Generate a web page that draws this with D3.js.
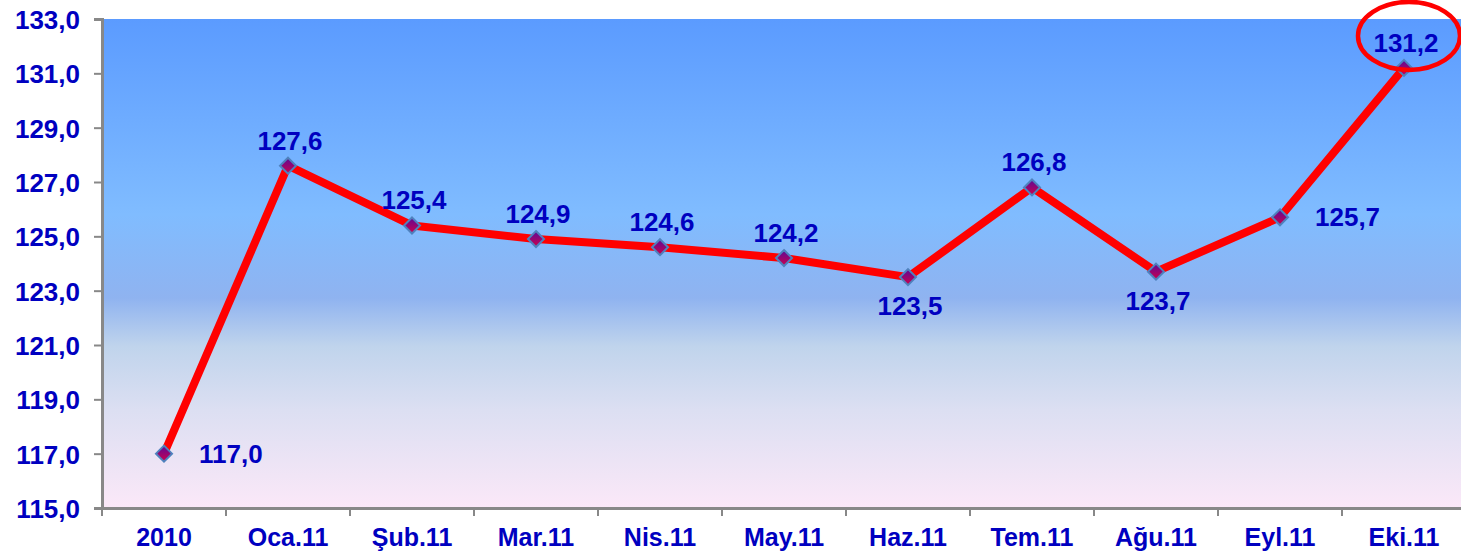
<!DOCTYPE html>
<html>
<head>
<meta charset="utf-8">
<script src="https://cdn.jsdelivr.net/npm/d3@7"></script>
<style>
  body { margin: 0; background: #fff; }
  text { font-family: "Liberation Sans", Arial, sans-serif; font-weight: bold; }
</style>
</head>
<body>
<script>
// chart data
const categories = ["2010", "Oca.11", "Şub.11", "Mar.11", "Nis.11", "May.11", "Haz.11", "Tem.11", "Ağu.11", "Eyl.11", "Eki.11"];
const values = [117.0, 127.6, 125.4, 124.9, 124.6, 124.2, 123.5, 126.8, 123.7, 125.7, 131.2];
// where each value label sits relative to its point
const labelPos = ["right", "above", "above", "above", "above", "above", "below", "above", "below", "right", "above"];
const yTicks = [115, 117, 119, 121, 123, 125, 127, 129, 131, 133];

const width = 1461;
const height = 558;
const margin = { top: 19, right: -5, bottom: 50, left: 102 };
const blue = "#0000c0";

const svg = d3.select("body").append("svg")
  .attr("width", width)
  .attr("height", height);

const defs = svg.append("defs");

// plot background gradient
const bg = defs.append("linearGradient")
  .attr("id", "bg").attr("x1", 0).attr("y1", 0).attr("x2", 0).attr("y2", 1);
[
  [0, "#5b9bff"], [0.4, "#80bcff"], [0.57, "#8fb3f0"],
  [0.67, "#c0d4ec"], [0.8, "#dcdff2"], [1, "#fbe8f8"]
].forEach(([o, c]) => bg.append("stop").attr("offset", o).attr("stop-color", c));

// marker fill
const mk = defs.append("linearGradient")
  .attr("id", "mk").attr("x1", 0).attr("y1", 0).attr("x2", 0).attr("y2", 1);
mk.append("stop").attr("offset", 0).attr("stop-color", "#5a0a9a");
mk.append("stop").attr("offset", 1).attr("stop-color", "#d0004a");

const x = d3.scaleBand()
  .domain(categories)
  .range([margin.left, width - margin.right]);

const y = d3.scaleLinear()
  .domain([115, 133])
  .range([height - margin.bottom, margin.top]);

svg.append("rect")
  .attr("x", margin.left)
  .attr("y", margin.top)
  .attr("width", width - margin.right - margin.left)
  .attr("height", y(115) - y(133))
  .attr("fill", "url(#bg)");

// y axis
const yAxis = svg.append("g")
  .attr("transform", `translate(${margin.left},0)`)
  .call(d3.axisLeft(y).tickValues(yTicks).tickSize(8).tickPadding(14)
    .tickFormat(d => d3.format(".1f")(d).replace(".", ",")));
yAxis.selectAll("text")
  .attr("fill", blue)
  .attr("dy", "0.36em")
  .style("font-size", "26px");

// x axis
const xAxis = svg.append("g")
  .attr("transform", `translate(0,${y(115)})`)
  .call(d3.axisBottom(x).tickSize(0).tickPadding(20));
xAxis.selectAll("text")
  .attr("fill", blue)
  .style("font-size", "25px");
xAxis.selectAll(".tick line").remove();

// tick marks on category boundaries
svg.selectAll(".xtick")
  .data(categories)
  .enter().append("line")
  .attr("x1", d => x(d)).attr("x2", d => x(d))
  .attr("y1", y(115)).attr("y2", y(115) + 8)
  .attr("stroke", "#888").attr("stroke-width", 2);

svg.selectAll(".domain").attr("stroke", "#888").attr("stroke-width", 3);
yAxis.selectAll(".tick line").attr("stroke", "#888").attr("stroke-width", 2);

const cx = d => x(d) + x.bandwidth() / 2;

// red line
svg.append("path")
  .datum(values)
  .attr("fill", "none")
  .attr("stroke", "#ff0000")
  .attr("stroke-width", 8)
  .attr("stroke-linejoin", "round")
  .attr("d", d3.line()
    .x((d, i) => cx(categories[i]))
    .y(d => y(d)));

// diamond markers
svg.selectAll(".pt")
  .data(values)
  .enter().append("path")
  .attr("transform", (d, i) => `translate(${cx(categories[i])},${y(d)})`)
  .attr("d", "M0,-8L8,0L0,8L-8,0Z")
  .attr("fill", "url(#mk)")
  .attr("stroke", "#4f81bd")
  .attr("stroke-width", 2);

// value labels
svg.selectAll(".lbl")
  .data(values)
  .enter().append("text")
  .attr("x", (d, i) => {
    const p = cx(categories[i]);
    if (labelPos[i] === "right") return p + 35;
    return p + 2;
  })
  .attr("y", (d, i) => {
    const p = y(d);
    if (labelPos[i] === "above") return p - 16;
    if (labelPos[i] === "below") return p + 38;
    return p + 9;
  })
  .attr("text-anchor", (d, i) => labelPos[i] === "right" ? "start" : "middle")
  .attr("fill", blue)
  .style("font-size", "26px")
  .text(d => d3.format(".1f")(d).replace(".", ","));

// highlight ring around the last value
const last = values.length - 1;
svg.append("ellipse")
  .attr("cx", cx(categories[last]) + 5)
  .attr("cy", y(values[last]) - 32)
  .attr("rx", 51)
  .attr("ry", 34)
  .attr("fill", "none")
  .attr("stroke", "#ff0000")
  .attr("stroke-width", 4.5);
</script>
</body>
</html>
